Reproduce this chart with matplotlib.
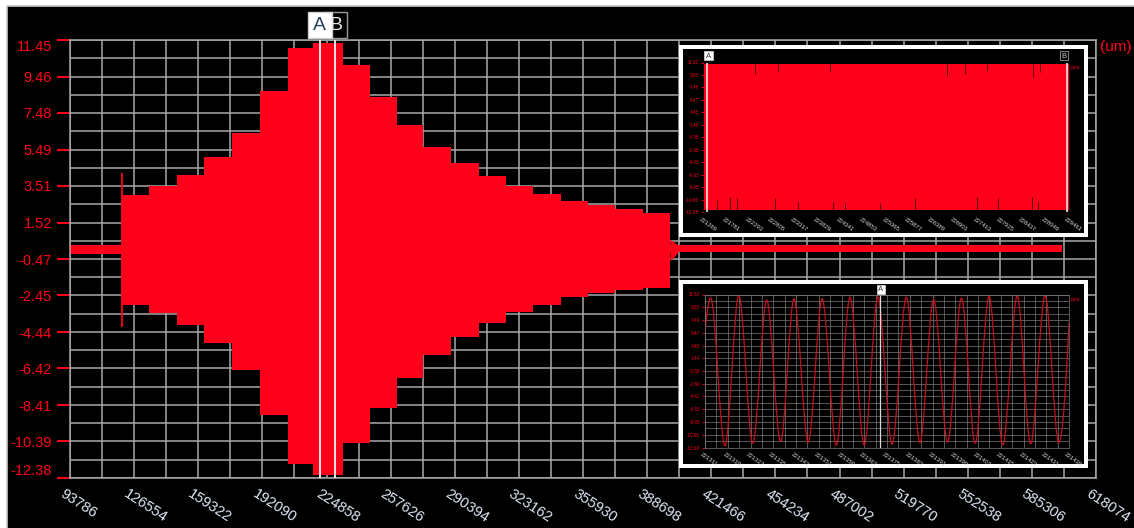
import numpy as np
import matplotlib.pyplot as plt
from matplotlib.patches import Rectangle, PathPatch
from matplotlib.path import Path
from matplotlib.transforms import ScaledTranslation

plt.rcParams['font.family'] = ['Liberation Sans', 'DejaVu Sans']

W, H = 1134, 528
RED = '#fe0019'
GRID = '#a8a8a8'

# ---- main record ----
x_ticks = [93786, 126554, 159322, 192090, 224858, 257626, 290394, 323162, 355930,
           388698, 421466, 454234, 487002, 519770, 552538, 585306, 618074]
y_ticks = [11.45, 9.46, 7.48, 5.49, 3.51, 1.52, -0.47, -2.45, -4.44, -6.42, -8.41, -10.39, -12.38]

# amplitude steps (start of each step, upper and lower edge of the band)
step_start = [120205, 134308, 148616, 162413, 176721, 190876, 205337, 218112, 233136,
              247086, 260730, 274323, 288477, 302785, 316582, 330534, 344534, 358638,
              372281, 386743]
step_end = 400386
step_top = [3.02, 3.49, 4.13, 5.08, 6.37, 8.68, 11.0, 11.3, 10.09, 8.35, 6.83, 5.64, 4.74,
            4.07, 3.51, 3.07, 2.71, 2.47, 2.24, 2.05]
step_bottom = [-2.97, -3.39, -4.06, -5.05, -6.51, -8.95, -11.6, -12.2, -10.49, -8.58, -6.96,
               -5.69, -4.69, -3.97, -3.33, -2.97, -2.52, -2.33, -2.15, -2.06]
start_spike = (120205, -4.15, 4.21)

idle_left = [93786, 120205]
idle_left_band = (-0.18, 0.30)
idle_right = [400386, 600543]
idle_right_band = (-0.08, 0.27)
tail_x = [400386, 402000, 404500]
tail_top = [0.6, 0.5, 0.27]
tail_bottom = [-0.55, -0.4, -0.08]

cursor_a = 221340
cursor_b = 229410

# ---- zoom A..B ----
ab_ticks = [221269, 221781, 222293, 222805, 223317, 223829, 224341, 224853, 225365,
            225877, 226389, 226901, 227413, 227925, 228437, 228949, 229461]
inset_y_ticks = [11.52, 9.50, 7.49, 5.47, 3.45, 1.44, -0.58, -2.60, -4.61, -6.63, -8.65,
                 -10.66, -12.68]
ab_band = (-12.3, 11.35)
ab_dip_x = [222413, 222937, 224097, 226715, 227126, 227613, 228659, 228809]
ab_dip_y = [9.74, 10.01, 10.01, 9.48, 9.74, 10.28, 9.21, 10.01]
ab_spike_x = [221554, 221852, 222002, 222862, 223385, 224171, 224433, 225219, 226004,
              227388, 227874, 228622, 228771]
ab_spike_y = [-10.70, -10.16, -10.43, -10.43, -10.97, -10.97, -11.24, -11.24, -10.43,
              -10.16, -10.43, -10.27, -10.97]
ab_cursor_a = 221343
ab_cursor_b = 229409

# ---- zoom around cursor A ----
za_ticks = [221311, 221319, 221327, 221335, 221343, 221351, 221359, 221367, 221375,
            221383, 221391, 221399, 221407, 221415, 221423, 221431, 221439]
za_t = [0, 2.0, 7.0, 11.9, 16.8, 21.7, 26.6, 31.3, 36.3, 41.2, 46.2, 51.0, 56.0, 60.8,
        65.8, 70.8, 75.6, 80.4, 85.3, 90.2, 95.0, 99.9, 104.7, 109.8, 114.5, 119.6, 124.4, 128]
za_v = [5.6, 10.95, -12.4, 11.4, -12.0, 10.65, -11.75, 10.8, -11.85, 10.85, -12.3, 11.1,
        -12.3, 11.15, -12.15, 11.1, -11.9, 10.75, -11.85, 10.95, -12.0, 11.25, -12.25, 11.3,
        -12.1, 11.35, -11.9, 7.0]
za_cursor = 221372.5


def mids(v):
    return [(a + b) / 2 for a, b in zip(v[:-1], v[1:])]


def fig_rect(x0, y0, x1, y1):
    # pixel box (top-left origin) -> figure fraction
    return [x0 / W, 1 - y1 / H, (x1 - x0) / W, (y1 - y0) / H]


fig = plt.figure(figsize=(W / 100, H / 100), dpi=100, facecolor='white')
fig.patches.append(Rectangle((7 / W, -0.1), 1.2, (H - 6) / H + 0.1, transform=fig.transFigure,
                             facecolor='black', edgecolor='#c8c8c8', lw=1.2, zorder=-10))

ax = fig.add_axes(fig_rect(70, 40, 1096, 478))
ax.set_facecolor('black')
ax.set_xlim(x_ticks[0], x_ticks[-1])
ax.set_ylim(y_ticks[-1], y_ticks[0])
ax.set_xticks(x_ticks)
ax.set_xticks(mids(x_ticks), minor=True)
ax.set_yticks(y_ticks)
ax.set_yticks(mids(y_ticks), minor=True)
ax.set_xticklabels([str(v) for v in x_ticks])
ax.set_yticklabels(['%.2f' % v for v in y_ticks])
ax.grid(which='both', color=GRID, lw=1.1, zorder=0)
ax.set_axisbelow(True)
for s in ax.spines.values():
    s.set_color(GRID)
    s.set_linewidth(1.1)
ax.tick_params(axis='y', which='major', length=9.5, width=1.4, color=RED, labelcolor=RED,
               labelsize=10.5, pad=3.5)
ax.tick_params(axis='x', which='major', length=0, labelcolor='#dfe8f7', labelsize=10.5, pad=6.5)
ax.tick_params(which='minor', length=0)
shift = ScaledTranslation(-5 / 100, 0, fig.dpi_scale_trans)
for lab in ax.get_xticklabels():
    lab.set_rotation(-33)
    lab.set_ha('left')
    lab.set_va('top')
    lab.set_rotation_mode('anchor')
    lab.set_transform(lab.get_transform() + shift)
ylabs = ax.get_yticklabels()
ylabs[0].set_va('top')
ylabs[-1].set_va('bottom')

xs = step_start + [step_end]
ax.fill_between(xs, step_bottom + [step_bottom[-1]], step_top + [step_top[-1]],
                step='post', color=RED, lw=0, zorder=2)
ax.fill_between(idle_left, *idle_left_band, color=RED, lw=0, zorder=2)
ax.fill_between(idle_right, *idle_right_band, color=RED, lw=0, zorder=2)
ax.fill_between(tail_x, tail_bottom, tail_top, color=RED, lw=0, zorder=2)
ax.vlines(start_spike[0], start_spike[1], start_spike[2], color=RED, lw=1.3, zorder=2)
for c in (cursor_a, cursor_b):
    ax.axvline(c, color='#ffe4e4', lw=1.4, zorder=3)

ax.text(1.004, 0.985, '(um)', transform=ax.transAxes, color=RED, fontsize=11, va='center',
        ha='left')

# cursor captions above the plot
fig.canvas.draw()
for c, name, fc, ec, tc in ((cursor_b, 'B', 'black', '#9a9a9a', '#e6e6e6'),
                            (cursor_a, 'A', 'white', '#d0d0d0', '#26405f')):
    px = ax.transData.transform((c, 0))[0]
    fig.patches.append(Rectangle(((px - 12) / W, 1 - 38 / H), 24 / W, 26 / H,
                                 transform=fig.transFigure, facecolor=fc, edgecolor=ec,
                                 lw=1, zorder=5))
    fig.text(px / W, 1 - 25.5 / H, name, color=tc, fontsize=14, ha='center', va='center',
             zorder=6)


def style_inset(a, ticks):
    a.set_facecolor('black')
    a.set_xlim(ticks[0], ticks[-1])
    a.set_ylim(inset_y_ticks[-1], inset_y_ticks[0])
    a.set_xticks(ticks)
    a.set_xticks(mids(ticks), minor=True)
    a.set_yticks(inset_y_ticks)
    a.set_yticks(mids(inset_y_ticks), minor=True)
    a.set_xticklabels([str(v) for v in ticks])
    a.set_yticklabels(['%.2f' % v for v in inset_y_ticks])
    a.tick_params(axis='y', which='major', length=2.5, width=0.6, color=RED, labelcolor=RED,
                  labelsize=3.3, pad=1)
    a.tick_params(axis='x', which='major', length=0, labelcolor='#d8d8d8', labelsize=4.3, pad=3)
    a.tick_params(which='minor', length=0)
    sh = ScaledTranslation(-3 / 100, 0, fig.dpi_scale_trans)
    for lab in a.get_xticklabels():
        lab.set_rotation(-35)
        lab.set_ha('left')
        lab.set_va('top')
        lab.set_rotation_mode('anchor')
        lab.set_transform(lab.get_transform() + sh)
    a.text(1.004, 0.985, '(um)', transform=a.transAxes, color=RED, fontsize=3.3, va='top',
           ha='left')


def small_tag(x0, y0, name, fc, ec, tc):
    fig.patches.append(Rectangle((x0 / W, 1 - (y0 + 8.5) / H), 8.5 / W, 8.5 / H,
                                 transform=fig.transFigure, facecolor=fc, edgecolor=ec,
                                 lw=0.6, zorder=5))
    fig.text((x0 + 4.25) / W, 1 - (y0 + 4.5) / H, name, color=tc, fontsize=5.5,
             ha='center', va='center', zorder=6)


# white frames of the two zoom windows
for x0, y0, x1, y1 in ((680.5, 47, 1086.3, 234.7), (681.3, 282, 1086.3, 466.3)):
    fig.patches.append(Rectangle((x0 / W, 1 - y1 / H), (x1 - x0) / W, (y1 - y0) / H,
                                 transform=fig.transFigure, facecolor='black',
                                 edgecolor='white', lw=2.9, zorder=1))

ins1 = fig.add_axes(fig_rect(704, 62.5, 1069, 212.3), zorder=2)
style_inset(ins1, ab_ticks)
for s in ins1.spines.values():
    s.set_visible(False)
ins1.fill_between([ab_ticks[0], ab_ticks[-1]], *ab_band, color=RED, lw=0)
ins1.vlines(ab_dip_x, ab_dip_y, ab_band[1], color='#3a0006', lw=0.6)
ins1.vlines(ab_spike_x, ab_band[0], ab_spike_y, color='#3a0006', lw=0.6)
for c in (ab_cursor_a, ab_cursor_b):
    ins1.axvline(c, color='#ffe4e4', lw=1.2)
small_tag(704, 51.5, 'A', 'white', '#cccccc', '#333333')
small_tag(1059.5, 51.5, 'B', 'black', '#9a9a9a', '#cccccc')

ins2 = fig.add_axes(fig_rect(705, 294.5, 1069, 447.5), zorder=2)
style_inset(ins2, za_ticks)
ins2.grid(which='both', color='#7a7a7a', lw=0.5)
ins2.set_axisbelow(True)
for s in ins2.spines.values():
    s.set_color('#7a7a7a')
    s.set_linewidth(0.5)

# smooth wave through the read turning points
verts = [(za_ticks[0] + za_t[0], za_v[0])]
codes = [Path.MOVETO]
n = len(za_t)
for i in range(n - 1):
    t0, t1 = za_ticks[0] + za_t[i], za_ticks[0] + za_t[i + 1]
    v0, v1 = za_v[i], za_v[i + 1]
    d = t1 - t0
    c1 = (t0 + d / 3, v0) if i > 0 else (t0 + d / 3, v0 + 0.6 * (v1 - v0))
    c2 = (t1 - d / 3, v1) if i < n - 2 else (t1 - d / 3, v1 - 0.6 * (v1 - v0))
    verts += [c1, c2, (t1, v1)]
    codes += [Path.CURVE4] * 3
ins2.add_patch(PathPatch(Path(verts, codes), fill=False, edgecolor='#c4101c', lw=0.9))
ins2.axvline(za_cursor, color='#d8d8d8', lw=0.9)
small_tag(876.7, 285, 'A', 'white', '#cccccc', '#333333')

fig.savefig('out.png', dpi=100, facecolor='white')
